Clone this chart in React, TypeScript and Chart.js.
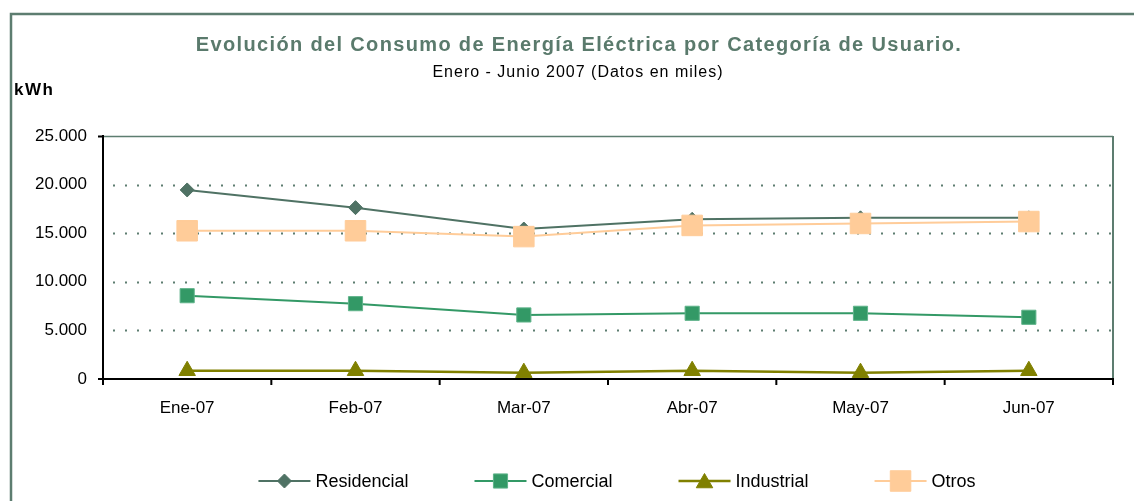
import React, { useEffect, useRef } from 'react';
import { Chart, registerables } from 'chart.js';
import { drawPoint } from 'chart.js/helpers';

Chart.register(...registerables);

const categories = ['Ene-07', 'Feb-07', 'Mar-07', 'Abr-07', 'May-07', 'Jun-07'];
const residencial = [19450, 17630, 15430, 16430, 16580, 16580];
const comercial = [8570, 7750, 6590, 6760, 6760, 6350];
const industrial = [850, 850, 650, 850, 650, 850];
const otros = [15250, 15250, 14650, 15800, 16000, 16200];
const seriesNames = ['Residencial', 'Comercial', 'Industrial', 'Otros'];
const yMin = 0;
const yMax = 25000;
const yStep = 5000;
const titleText = 'Evolución del Consumo de Energía Eléctrica por Categoría de Usuario.';
const subtitleText = 'Enero - Junio 2007 (Datos en miles)';
const unitText = 'kWh';

const FONT = '"Liberation Sans", Arial, sans-serif';
const FRAME = '#5d7d70';

const fmt = (v: number) => String(v).replace(/\B(?=(\d{3})+(?!\d))/g, '.');

const framePlugin = {
  id: 'frame',
  beforeDraw(chart: any) {
    const ctx = chart.ctx;
    ctx.save();
    ctx.fillStyle = '#ffffff';
    ctx.fillRect(0, 0, chart.width, chart.height);
    ctx.restore();
  },
  beforeDatasetsDraw(chart: any) {
    const ctx = chart.ctx;
    const { left, right, top, bottom } = chart.chartArea;
    const ys = chart.scales.y;
    ctx.save();
    ys.ticks.forEach((t: any) => {
      const y = Math.round(ys.getPixelForValue(t.value)) + 0.5;
      if (t.value === ys.max) {
        ctx.setLineDash([]);
        ctx.strokeStyle = FRAME;
        ctx.lineWidth = 1.5;
        ctx.beginPath();
        ctx.moveTo(left, y);
        ctx.lineTo(right, y);
        ctx.stroke();
      } else if (t.value !== ys.min) {
        ctx.setLineDash([2, 10]);
        ctx.strokeStyle = FRAME;
        ctx.lineWidth = 2;
        ctx.beginPath();
        ctx.moveTo(left + 10, y);
        ctx.lineTo(right, y);
        ctx.stroke();
      }
    });
    ctx.setLineDash([]);
    ctx.strokeStyle = FRAME;
    ctx.lineWidth = 2;
    ctx.beginPath();
    ctx.moveTo(right, top);
    ctx.lineTo(right, bottom);
    ctx.stroke();
    ctx.restore();
  },
  afterDatasetsDraw(chart: any) {
    const ctx = chart.ctx;
    const { left, right, top, bottom } = chart.chartArea;
    const xs = chart.scales.x;
    ctx.save();
    ctx.strokeStyle = '#000000';
    ctx.lineWidth = 2;
    ctx.beginPath();
    ctx.moveTo(left, top - 1);
    ctx.lineTo(left, bottom + 1);
    ctx.moveTo(left - 1, bottom);
    ctx.lineTo(right + 1, bottom);
    ctx.moveTo(left - 5, top + 0.5);
    ctx.lineTo(left, top + 0.5);
    ctx.moveTo(left - 5, bottom);
    ctx.lineTo(left, bottom);
    const n = xs.ticks.length;
    const w = (right - left) / n;
    for (let i = 0; i <= n; i++) {
      const x = left + i * w;
      ctx.moveTo(x, bottom);
      ctx.lineTo(x, bottom + 6);
    }
    ctx.stroke();
    ctx.restore();
  },
  afterDraw(chart: any) {
    const ctx = chart.ctx;
    ctx.save();
    ctx.strokeStyle = FRAME;
    ctx.lineWidth = 2.5;
    ctx.strokeRect(11, 14, chart.width + 40, chart.height + 40);

    ctx.textAlign = 'center';
    ctx.textBaseline = 'middle';
    ctx.fillStyle = '#5a7a6c';
    ctx.font = `bold 20px ${FONT}`;
    (ctx as any).letterSpacing = '1.35px';
    ctx.fillText(titleText, 579, 45);
    ctx.fillStyle = '#000000';
    ctx.font = `16px ${FONT}`;
    (ctx as any).letterSpacing = '1px';
    ctx.fillText(subtitleText, 578, 73);
    ctx.textAlign = 'left';
    ctx.font = `bold 17px ${FONT}`;
    (ctx as any).letterSpacing = '1.5px';
    ctx.fillText(unitText, 14, 90);
    (ctx as any).letterSpacing = '0px';

    ctx.font = `18px ${FONT}`;
    const lineLen = 52;
    const gap = 5;
    const itemGap = 66;
    const ds = chart.data.datasets;
    const widths = ds.map((d: any) => ctx.measureText(d.label).width);
    const total = widths.reduce((a: number, b: number) => a + b + lineLen + gap, 0) + itemGap * (ds.length - 1);
    let x = 617 - total / 2;
    const y = 481;
    ds.forEach((d: any, i: number) => {
      ctx.strokeStyle = d.borderColor;
      ctx.lineWidth = d.borderWidth;
      ctx.beginPath();
      ctx.moveTo(x, y);
      ctx.lineTo(x + lineLen, y);
      ctx.stroke();
      ctx.fillStyle = d.backgroundColor;
      ctx.strokeStyle = d.pointBorderColor || d.borderColor;
      ctx.lineWidth = 1;
      drawPoint(ctx, { pointStyle: d.pointStyle, radius: d.legendRadius, rotation: 0, borderWidth: 1 }, x + lineLen / 2, y + (d.pointStyle === 'triangle' ? 2 : 0));
      ctx.fillStyle = '#000000';
      ctx.textAlign = 'left';
      ctx.textBaseline = 'middle';
      ctx.fillText(d.label, x + lineLen + gap, y + 1);
      x += lineLen + gap + widths[i] + itemGap;
    });
    ctx.restore();
  },
};

export default function App() {
  const ref = useRef<HTMLCanvasElement | null>(null);
  useEffect(() => {
    if (!ref.current) return;
    const chart = new Chart(ref.current, {
      type: 'line',
      data: {
        labels: categories,
        datasets: [
          {
            label: seriesNames[0],
            data: residencial,
            borderColor: '#4f7264',
            backgroundColor: '#4f7264',
            pointBorderColor: '#4f7264',
            pointStyle: 'rectRot',
            pointRadius: 7,
            pointBorderWidth: 1,
            borderWidth: 2,
            tension: 0,
            order: 4,
            legendRadius: 7,
          } as any,
          {
            label: seriesNames[1],
            data: comercial,
            borderColor: '#339966',
            backgroundColor: '#339966',
            pointBorderColor: '#5fb38a',
            pointStyle: 'rect',
            pointRadius: 10,
            pointBorderWidth: 1,
            borderWidth: 2,
            tension: 0,
            order: 3,
            legendRadius: 10,
          } as any,
          {
            label: seriesNames[2],
            data: industrial,
            borderColor: '#808000',
            backgroundColor: '#808000',
            pointBorderColor: '#808000',
            pointStyle: 'triangle',
            pointRadius: 9.5,
            pointBorderWidth: 1,
            borderWidth: 2.5,
            tension: 0,
            order: 2,
            legendRadius: 9.5,
          } as any,
          {
            label: seriesNames[3],
            data: otros,
            borderColor: '#ffcc99',
            backgroundColor: '#ffcc99',
            pointBorderColor: '#ffcc99',
            pointStyle: 'rect',
            pointRadius: 14.5,
            pointBorderWidth: 1,
            borderWidth: 2,
            tension: 0,
            order: 1,
            legendRadius: 14.5,
          } as any,
        ],
      },
      options: {
        responsive: false,
        animation: false,
        layout: { padding: { top: 136, left: 0, right: 21, bottom: 0 } },
        plugins: {
          legend: { display: false },
          title: { display: false },
          tooltip: { enabled: false },
        },
        scales: {
          x: {
            type: 'category',
            offset: true,
            grid: { display: false, drawTicks: false },
            border: { display: false },
            ticks: {
              font: { family: FONT, size: 17 },
              color: '#000000',
              padding: 19,
              maxRotation: 0,
              autoSkip: false,
            },
            afterFit: (s: any) => {
              s.height = 122;
            },
          },
          y: {
            min: yMin,
            max: yMax,
            grid: { display: false, drawTicks: false },
            border: { display: false },
            ticks: {
              stepSize: yStep,
              font: { family: FONT, size: 17 },
              color: '#000000',
              padding: 16,
              callback: (v: any) => fmt(Number(v)),
            },
            afterFit: (s: any) => {
              s.width = 103;
            },
          },
        },
      },
      plugins: [framePlugin],
    });
    return () => chart.destroy();
  }, []);
  return (
    <div style={{ position: 'absolute', left: 0, top: 0, width: 1134, height: 501 }}>
      <canvas ref={ref} width={1134} height={501} style={{ display: 'block' }} />
    </div>
  );
}
